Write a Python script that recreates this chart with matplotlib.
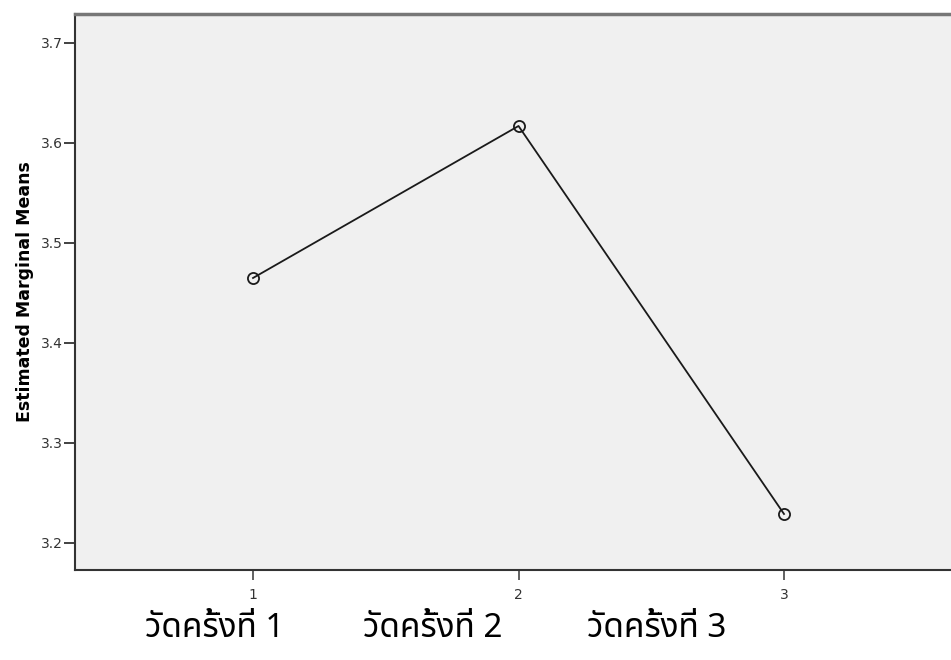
import matplotlib
matplotlib.use("Agg")
import matplotlib.pyplot as plt
from matplotlib import font_manager, ft2font

# estimated marginal means for the three measurements
times = [1, 2, 3]
means = [3.465, 3.617, 3.229]
yticks = [3.2, 3.3, 3.4, 3.5, 3.6, 3.7]
thai_labels = ["วัดครั้งที่ 1", "วัดครั้งที่ 2", "วัดครั้งที่ 3"]


def find_thai_font():
    found = []
    for f in font_manager.fontManager.ttflist:
        try:
            cmap = ft2font.FT2Font(f.fname).get_charmap()
        except Exception:
            continue
        if 0x0E27 in cmap and 0x0E31 in cmap:
            found.append(f.name)
    found = sorted(set(found))
    for pref in ["Noto Sans Thai", "Noto Sans Thai Looped", "Thasadith",
                 "Sarabun", "Anuphan"]:
        if pref in found:
            return pref
    return found[0] if found else None


thai_font = find_thai_font()
thai_family = [thai_font, "DejaVu Sans"] if thai_font else ["DejaVu Sans"]

fig = plt.figure(figsize=(9.51, 6.6), dpi=100)
ax = fig.add_axes([0.0789, 0.1364, 0.9211, 0.8424])
ax.set_facecolor("#f0f0f0")

ax.plot(times, means, color="#1a1a1a", lw=1.3, marker="o", markersize=8,
        markerfacecolor="none", markeredgecolor="#1a1a1a", markeredgewidth=1.3)

ax.set_xlim(0.3296, 3.629)
ax.set_ylim(3.173, 3.729)
ax.set_xticks(times)
ax.set_yticks(yticks)
ax.set_yticklabels([f"{v:.1f}" for v in yticks])
ax.tick_params(axis="y", length=8, width=1.3, color="#333333", labelsize=10,
               labelcolor="#333333", pad=1)
ax.tick_params(axis="x", length=7, width=1.3, color="#555555", labelsize=10,
               labelcolor="#333333", pad=6)
for side in ["left", "bottom", "top"]:
    ax.spines[side].set_linewidth(1.5)
    ax.spines[side].set_color("#333333")
ax.spines["top"].set_color("#777777")
ax.spines["top"].set_linewidth(2.5)
ax.spines["right"].set_visible(False)

ax.set_ylabel("Estimated Marginal Means", fontsize=12.5, fontweight="bold",
              labelpad=5)

for x, lab in zip([0.226, 0.455, 0.691], thai_labels):
    fig.text(x, 0.048, lab, ha="center", va="center", fontsize=24,
             family=thai_family, fontweight="light")

fig.savefig("out.png", dpi=100)
